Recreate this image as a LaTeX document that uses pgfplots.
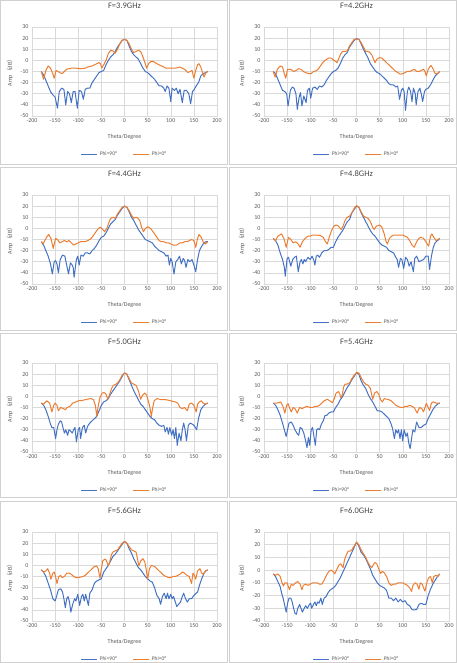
\documentclass[border=0pt]{standalone}
\usepackage{pgfplots}
\pgfplotsset{compat=1.18}
\usepackage{fontspec}
\setmainfont{Carlito}
\newfontfamily\cjk{Noto Sans CJK SC}
\definecolor{xlblue}{HTML}{4472C4}
\definecolor{xlorange}{HTML}{ED7D31}
\definecolor{xlgrid}{HTML}{D9D9D9}
\definecolor{xltext}{HTML}{595959}
\definecolor{xlframe}{HTML}{D0D0D0}
\pgfplotsset{
 panel/.style={
  scale only axis, width=185bp, height=89bp, anchor=north west,
  xmin=-200, xmax=200, xtick={-200,-150,...,200},
  ymin=-50, ymax=30, ytick={-50,-40,...,30},
  grid=major, major grid style={xlgrid, line width=0.5pt},
  axis line style={xlgrid, line width=0.5pt}, tick style={draw=none},
  tick label style={font=\fontsize{6}{7}\selectfont, text=xltext},
  xticklabel style={yshift=1bp},
  /pgf/number format/assume math mode=true,
  xlabel={Theta/Degree}, ylabel={Amp{\cjk （}dB{\cjk ）}},
  every axis x label/.style={at={(axis description cs:0.5,-0.236)}, anchor=center, font=\fontsize{6}{7}\selectfont, text=xltext},
  every axis y label/.style={at={(axis description cs:-0.12,0.5)}, rotate=90, anchor=center, font=\fontsize{6}{7}\selectfont, text=xltext},
  title style={at={(axis description cs:0.5,1.17)}, anchor=center, font=\fontsize{8.5}{9}\selectfont, text=xltext!80!black},
  legend style={at={(axis description cs:0.5,-0.43)}, anchor=center, draw=none, fill=none,
    legend columns=2, font=\fontsize{5.5}{6}\selectfont, text=xltext,
    /tikz/every even column/.append style={column sep=14bp}},
  legend image code/.code={\draw[#1] (0bp,0bp) -- (16bp,0bp);},
  every axis plot/.append style={line width=1pt, line join=round},
  clip=false,
 },
 b/.style={xlblue}, o/.style={xlorange},
}
\newcommand\lgd{\legend{Phi=90°,Phi=0°}}
\begin{document}
\begin{tikzpicture}
\useasboundingbox (0,0) rectangle (457bp,663bp);
\begin{scope}[xlframe, line width=0.6pt]
\draw (0.5bp,498.5bp) rectangle (227bp,662.5bp);
\draw (229.5bp,498.5bp) rectangle (456.5bp,662.5bp);
\draw (0.5bp,332.5bp) rectangle (227bp,496bp);
\draw (229.5bp,332.5bp) rectangle (456.5bp,496bp);
\draw (0.5bp,165.5bp) rectangle (227bp,329.5bp);
\draw (229.5bp,165.5bp) rectangle (456.5bp,329.5bp);
\draw (0.5bp,0.5bp) rectangle (227bp,162bp);
\draw (229.5bp,0.5bp) rectangle (456.5bp,162bp);
\end{scope}

% 3.9 GHz
\begin{axis}[panel, at={(32bp,636bp)}, title={F=3.9GHz}]
\addplot[b] coordinates {(-180,-10)(-175,-13)(-170,-18)(-165,-23)(-160,-28)(-155,-31)(-150,-33)(-145,-43)(-141,-28)(-136,-25)(-131,-26)(-127,-40)(-123,-28)(-119,-30)(-115,-38)(-111,-28)(-107,-28)(-102,-43)(-98,-27)(-93,-28)(-89,-35)(-85,-26)(-80,-25)(-75,-25)(-70,-20)(-65,-17)(-60,-14)(-55,-11)(-50,-10)(-45,-9)(-40,-4)(-35,0)(-30,3)(-25,5)(-20,8)(-15,12)(-10,15)(-5,18)(0,19)(5,18)(10,13)(15,8)(20,5)(25,3)(30,1)(35,-3)(40,-7)(45,-10)(50,-11)(55,-13)(60,-15)(65,-17)(70,-20)(75,-23)(80,-23)(85,-25)(88,-28)(92,-23)(96,-25)(100,-37)(103,-25)(108,-27)(112,-25)(116,-30)(120,-26)(125,-38)(129,-27)(134,-27)(139,-30)(143,-39)(147,-28)(151,-26)(155,-23)(160,-20)(165,-14)(170,-12)(175,-11)(180,-10)};
\addplot[o] coordinates {(-180,-10)(-175,-17)(-170,-9)(-165,-5)(-160,-7)(-155,-12)(-152,-16)(-148,-9)(-144,-10)(-140,-11)(-135,-12)(-130,-10)(-125,-8)(-115,-7)(-105,-7)(-95,-7.5)(-85,-7)(-80,-6)(-70,-5)(-60,-3)(-55,-2)(-52,-3)(-49,-7)(-45,-4)(-40,0)(-35,6)(-30,9)(-25,8.5)(-20,6.5)(-15,10)(-10,15)(-5,18)(0,19)(5,18)(10,15)(15,10)(20,7)(25,8)(30,9)(35,8)(40,3)(44,-2)(48,-7)(52,-3)(57,-1)(62,-1)(70,-3)(80,-5)(90,-7)(100,-7)(110,-7)(120,-6)(130,-8)(137,-11)(142,-10)(146,-9)(150,-16)(154,-9)(158,-4)(161,-3)(165,-6)(169,-11)(172,-15)(176,-11)(180,-10)};
\lgd
\end{axis}

% 4.2 GHz
\begin{axis}[panel, at={(264bp,636bp)}, title={F=4.2GHz}]
\addplot[b] coordinates {(-180,-10)(-175,-12)(-170,-17)(-165,-22)(-160,-27)(-155,-28)(-151,-30)(-148,-41)(-143,-27)(-139,-24)(-135,-25)(-131,-30)(-128,-44)(-124,-33)(-121,-29)(-118,-41)(-114,-32)(-109,-38)(-106,-27)(-102,-25)(-99,-34)(-95,-25)(-90,-24)(-85,-26)(-80,-23)(-75,-24)(-70,-22)(-65,-18)(-60,-15)(-55,-12)(-50,-10)(-45,-9)(-40,-7)(-35,-3)(-30,2)(-25,5)(-20,7)(-15,12)(-10,15)(-5,18)(0,19.5)(5,19)(10,15)(15,10)(20,6)(25,2)(30,-3)(35,-6)(40,-9)(45,-11)(50,-12)(55,-14)(60,-16)(65,-18)(70,-21)(75,-22)(80,-22)(85,-24)(89,-23)(93,-35)(97,-27)(100,-25)(103,-28)(106,-45)(110,-28)(113,-24)(117,-28)(120,-37)(123,-25)(127,-30)(129,-40)(133,-28)(137,-25)(140,-30)(143,-37)(147,-28)(150,-26)(155,-25)(160,-22)(165,-18)(170,-14)(175,-12)(180,-10)};
\addplot[o] coordinates {(-180,-10)(-176,-15)(-171,-8)(-165,-5)(-160,-6)(-156,-12)(-153,-16)(-149,-8)(-142,-8)(-136,-10)(-130,-9)(-125,-7.5)(-120,-8)(-115,-10)(-110,-11)(-103,-12)(-98,-12)(-93,-10)(-88,-9.5)(-83,-8)(-78,-5)(-73,-2)(-68,0)(-61,2)(-55,2)(-50,0.5)(-45,-1)(-42,-2)(-38,2)(-34,6)(-30,8)(-25,8)(-20,8.5)(-15,13)(-10,16)(-5,19)(0,19)(5,19)(10,16)(15,12)(20,8)(24,8)(28,7.5)(33,5)(37,1)(40,-2)(44,1)(50,2.5)(55,2)(60,0)(65,-2)(70,-4)(75,-6)(80,-8)(85,-10)(90,-11)(94,-12.4)(100,-12)(105,-11)(110,-10)(115,-10)(120,-9)(125,-8)(130,-10)(135,-10)(140,-9)(145,-8)(148,-10)(151,-14)(155,-8)(161,-4.5)(166,-8)(170,-12)(175,-12)(180,-10)};
\lgd
\end{axis}

% 4.4 GHz
\begin{axis}[panel, at={(32bp,468bp)}, title={F=4.4GHz}]
\addplot[b] coordinates {(-180,-12)(-175,-15)(-170,-20)(-165,-25)(-160,-32)(-156,-41)(-152,-30)(-149,-29)(-146,-32)(-143,-40)(-139,-28)(-134,-24)(-129,-25)(-125,-33)(-121,-41)(-117,-31)(-113,-33)(-111,-35)(-109,-44)(-104,-28)(-101,-25)(-98,-33)(-94,-24)(-89,-25)(-85,-22)(-80,-22)(-75,-23)(-70,-20)(-65,-18)(-60,-15)(-55,-11)(-50,-8)(-45,-7)(-40,-4)(-35,0)(-30,4)(-25,6)(-20,8)(-15,12)(-10,15)(-5,18)(0,20)(5,19)(10,15)(15,10)(20,7)(25,3)(30,-1)(35,-4)(40,-7)(45,-10)(50,-11)(55,-12)(60,-13)(65,-16)(70,-18)(75,-20)(80,-21)(85,-22)(90,-25)(94,-24)(97,-33)(100,-27)(103,-30)(107,-41)(111,-30)(115,-28)(119,-25)(123,-32)(127,-27)(130,-29)(133,-35)(137,-28)(141,-30)(146,-28)(150,-33)(154,-39)(158,-28)(162,-20)(167,-16)(172,-13)(176,-12)(180,-12)};
\addplot[o] coordinates {(-180,-12)(-176,-14)(-170,-9)(-164,-5.5)(-159,-9)(-154,-18)(-149,-9)(-145,-10)(-140,-13)(-135,-12)(-130,-11)(-125,-12)(-120,-11)(-115,-13)(-110,-15)(-105,-14)(-100,-13)(-95,-12)(-85,-12)(-80,-11)(-75,-10)(-70,-8)(-65,-5)(-60,-2)(-56,0)(-52,1)(-47,-1)(-43,-3)(-38,0)(-34,5)(-30,9)(-24,10)(-20,9)(-15,13)(-10,16)(-5,19)(0,20)(5,19)(10,16)(15,12)(20,9)(24,10)(28,9.6)(33,7)(37,1)(41,-3)(45,0)(51,1.5)(56,0)(60,-2)(65,-5)(70,-8)(75,-11)(80,-12)(85,-12)(90,-13)(95,-13)(100,-14)(105,-15)(113,-15)(120,-13)(125,-13)(130,-12)(135,-12)(140,-11)(145,-10)(150,-11)(154,-17)(158,-9)(161,-5.5)(166,-8)(171,-13)(175,-14)(180,-12)};
\lgd
\end{axis}

% 4.8 GHz
\begin{axis}[panel, at={(264bp,468bp)}, title={F=4.8GHz}]
\addplot[b] coordinates {(-180,-9)(-175,-11)(-170,-15)(-165,-22)(-160,-28)(-156,-35)(-154,-43)(-150,-27)(-147,-26)(-142,-34)(-138,-28)(-134,-26)(-130,-25)(-126,-39)(-122,-30)(-119,-28)(-116,-32)(-113,-28)(-110,-30)(-105,-26)(-100,-28)(-96,-25)(-92,-29)(-90,-33)(-87,-25)(-84,-24)(-80,-26)(-75,-22)(-70,-20)(-65,-20)(-60,-19)(-55,-17)(-50,-17)(-45,-12)(-40,-8)(-35,-5)(-30,-2)(-25,2)(-20,6)(-15,8)(-10,14)(-5,17)(0,20)(5,19)(10,14)(15,10)(20,6)(25,2)(30,-2)(35,-5)(40,-7)(45,-10)(50,-13)(55,-15)(60,-16)(65,-17)(70,-20)(75,-21)(80,-22)(85,-26)(88,-28)(91,-35)(95,-27)(98,-28)(102,-36)(106,-26)(110,-28)(114,-34)(118,-30)(123,-39)(126,-27)(130,-25)(135,-30)(140,-29)(145,-28)(150,-25)(155,-25)(158,-37)(162,-25)(166,-17)(170,-13)(175,-11)(180,-9)};
\addplot[o] coordinates {(-180,-9)(-175,-11)(-170,-7)(-162,-5)(-157,-9)(-152,-17)(-147,-8)(-142,-10)(-137,-13)(-132,-12)(-126,-14)(-122,-17)(-117,-12)(-111,-9)(-105,-7)(-100,-7)(-95,-6)(-85,-6)(-78,-6.5)(-72,-8)(-67,-12)(-63,-14)(-59,-8)(-54,-2)(-49,2)(-44,3)(-39,2)(-33,-1)(-29,2)(-25,7)(-20,10)(-15,11)(-10,14)(-5,18)(0,20.5)(5,19)(10,15)(15,11)(20,10)(25,9)(30,6)(35,1)(38,-1)(43,2)(50,3)(55,1)(60,-5)(64,-12)(67,-14)(71,-9)(76,-7)(80,-6)(90,-6)(100,-6)(105,-7)(110,-8)(115,-11)(120,-15)(125,-17)(130,-12)(135,-9)(139,-8)(145,-9)(150,-12)(156,-16)(160,-7)(163,-5)(167,-8)(172,-11)(176,-10)(180,-9)};
\lgd
\end{axis}

% 5.0 GHz
\begin{axis}[panel, at={(32bp,300bp)}, title={F=5.0GHz}]
\addplot[b] coordinates {(-180,-6)(-175,-8)(-170,-12)(-165,-18)(-160,-25)(-157,-28)(-153,-28)(-149,-38)(-146,-30)(-143,-25)(-139,-22)(-136,-23)(-133,-28)(-130,-33)(-127,-30)(-123,-35)(-120,-30)(-117,-31)(-113,-33)(-110,-30)(-107,-28)(-104,-41)(-100,-30)(-97,-28)(-95,-38)(-91,-28)(-87,-26)(-84,-33)(-80,-27)(-75,-24)(-70,-22)(-65,-20)(-60,-18)(-55,-13)(-50,-8)(-45,-5)(-40,-4)(-35,-2)(-30,2)(-25,5)(-20,8)(-15,11)(-10,14)(-5,18)(0,21)(5,20)(10,15)(15,10)(20,5)(25,1)(30,-3)(35,-7)(40,-9)(45,-12)(50,-15)(55,-18)(60,-20)(65,-21)(70,-24)(75,-26)(80,-27)(85,-26)(88,-32)(92,-28)(95,-34)(98,-28)(102,-35)(105,-30)(108,-38)(111,-28)(114,-44)(118,-33)(122,-40)(125,-30)(128,-24)(131,-30)(134,-40)(138,-26)(142,-24)(147,-25)(152,-27)(156,-30)(160,-20)(165,-12)(170,-9)(175,-7)(180,-6)};
\addplot[o] coordinates {(-180,-6)(-175,-7)(-168,-4)(-162,-6)(-157,-14)(-153,-8)(-150,-6)(-146,-8)(-143,-13)(-138,-10)(-132,-11)(-128,-12)(-124,-10)(-118,-9)(-112,-6)(-105,-5)(-100,-4)(-90,-3.5)(-80,-2.5)(-72,-2)(-67,-3)(-63,-8)(-60,-17.7)(-57,-9)(-53,-1)(-48,3)(-44,3.5)(-40,2)(-36,-2.6)(-32,2)(-28,7)(-24,10)(-20,10.5)(-15,12)(-10,15)(-5,19)(0,21)(5,20)(10,16)(15,12)(20,11)(25,10)(30,5)(35,-2.6)(39,1)(44,3)(48,1)(52,-5)(55,-10)(58,-18)(61,-10)(64,-4)(70,-2)(80,-3)(90,-3)(100,-4)(110,-5)(115,-6)(120,-10)(125,-11)(130,-10)(136,-13)(140,-7)(145,-6)(150,-8)(155,-14)(158,-7)(162,-5)(166,-4)(170,-6)(175,-7)(180,-6)};
\lgd
\end{axis}

% 5.4 GHz
\begin{axis}[panel, at={(264bp,300bp)}, title={F=5.4GHz}]
\addplot[b] coordinates {(-180,-6)(-175,-8)(-170,-12)(-165,-17)(-160,-24)(-156,-30)(-152,-36)(-149,-30)(-146,-24)(-141,-23)(-137,-26)(-133,-30)(-129,-33)(-125,-35)(-122,-28)(-118,-29)(-114,-33)(-111,-38)(-107,-46)(-104,-37)(-101,-44)(-98,-30)(-95,-28)(-92,-36)(-89,-44)(-86,-30)(-83,-29)(-80,-30)(-76,-25)(-72,-22)(-68,-17)(-64,-17)(-60,-15)(-55,-14)(-50,-14)(-45,-10)(-40,-7)(-35,-3)(-30,0)(-25,4)(-20,8)(-15,11)(-10,15)(-5,18)(0,21.5)(5,20)(10,14)(15,10)(20,7)(25,2)(30,-2)(35,-5)(40,-9)(45,-13)(50,-13)(55,-14)(60,-16)(65,-18)(70,-20)(75,-25)(78,-29)(82,-38)(85,-30)(88,-33)(91,-30)(94,-38)(97,-30)(100,-40)(103,-30)(107,-36)(110,-33)(113,-42)(116,-47)(119,-38)(122,-30)(126,-32)(130,-23)(135,-28)(140,-28)(145,-26)(150,-25)(155,-20)(160,-16)(165,-12)(170,-9)(175,-7)(180,-6)};
\addplot[o] coordinates {(-180,-6)(-172,-6)(-164,-5)(-159,-9)(-155,-15)(-151,-8)(-148,-6.5)(-145,-10)(-141,-14)(-137,-10)(-133,-11)(-128,-15)(-123,-10)(-118,-11)(-113,-10)(-108,-9)(-100,-10)(-95,-10)(-90,-9)(-85,-9)(-80,-8)(-75,-6)(-70,-4)(-63,-2.6)(-58,-4)(-52,-5.7)(-48,-2)(-44,3)(-39,4.3)(-36,2)(-34,-1)(-31,1)(-28,8)(-25,11)(-20,11)(-15,12)(-10,16)(-5,19)(0,21.5)(5,21)(10,17)(15,13)(20,11)(25,10)(30,7)(35,-2.6)(39,3)(44,4.3)(48,2)(52,-3)(56,-5)(60,-2)(70,-3)(75,-4)(80,-6)(85,-8)(90,-9)(95,-10)(100,-10)(105,-9)(110,-9)(115,-8)(120,-9)(125,-10)(131,-15)(136,-10)(141,-11)(145,-14)(148,-10)(151,-6.2)(155,-10)(158,-12.7)(162,-6)(166,-5)(172,-6)(180,-6)};
\lgd
\end{axis}

% 5.6 GHz
\begin{axis}[panel, at={(32bp,131bp)}, title={F=5.6GHz}]
\addplot[b] coordinates {(-180,-4)(-175,-6)(-170,-10)(-165,-16)(-160,-22)(-155,-30)(-150,-32)(-147,-28)(-143,-22)(-138,-21)(-134,-24)(-131,-30)(-128,-38)(-125,-30)(-122,-28)(-119,-33)(-116,-42)(-112,-35)(-108,-30)(-105,-32)(-101,-26)(-97,-36)(-93,-28)(-90,-26)(-87,-32)(-84,-26)(-81,-31)(-78,-36)(-75,-25)(-70,-22)(-65,-16)(-60,-14)(-55,-13)(-50,-12)(-45,-6)(-40,-3)(-35,0)(-30,4)(-25,8)(-20,10)(-15,13)(-10,16)(-5,19)(0,21.5)(5,20)(10,15)(15,11)(20,6)(25,2)(30,-2)(35,-4)(40,-7)(45,-10)(50,-12)(55,-14)(60,-15)(65,-20)(70,-27)(75,-30)(78,-35)(82,-28)(86,-25)(90,-30)(93,-25)(96,-30)(100,-26)(103,-30)(106,-28)(110,-33)(113,-37)(117,-35)(121,-33)(125,-28)(128,-25)(132,-30)(136,-33)(140,-30)(145,-30)(150,-27)(155,-25)(158,-24)(162,-18)(167,-12)(172,-7)(176,-5)(180,-4)};
\addplot[o] coordinates {(-180,-4)(-175,-6)(-170,-5)(-166,-3)(-162,-7)(-159,-12.4)(-155,-7)(-152,-6)(-149,-10)(-146,-16.3)(-142,-10)(-138,-9)(-135,-11)(-130,-10)(-125,-7)(-120,-7)(-115,-8)(-110,-10)(-105,-11)(-100,-11)(-95,-10.5)(-90,-10)(-85,-9)(-80,-7)(-75,-5)(-70,-3)(-65,-1)(-60,-0.5)(-57,-3)(-53,-11.5)(-50,-3)(-47,4)(-43,5.6)(-40,5)(-35,-0.4)(-32,3)(-28,10)(-25,12)(-20,13)(-15,14)(-10,17)(-5,20)(0,21.5)(5,20)(10,17)(15,14)(20,13)(25,12)(28,6)(31,-0.4)(35,4)(40,6)(44,3)(47,-4)(50,-12.4)(54,-3)(58,0)(65,-1)(70,-3)(75,-5)(80,-7)(85,-9)(90,-10)(95,-11)(100,-11)(105,-10)(110,-10)(115,-9)(120,-8)(125,-6)(130,-7)(135,-9)(140,-10)(145,-16.4)(148,-7)(151,-9)(154,-12.4)(158,-5)(163,-3)(167,-7)(170,-8)(175,-5)(180,-4)};
\lgd
\end{axis}

% 6.0 GHz
\begin{axis}[panel, at={(264bp,131bp)}, title={F=6.0GHz}, ymin=-40, ytick={-40,-30,...,30}]
\addplot[b] coordinates {(-180,-3)(-175,-5)(-170,-9)(-165,-13)(-162,-18)(-158,-23)(-155,-28)(-152,-33)(-149,-26)(-146,-22)(-142,-22)(-139,-25)(-136,-30)(-133,-34)(-130,-34.7)(-127,-30)(-123,-27)(-120,-30)(-117,-33)(-113,-30)(-110,-28)(-106,-30)(-102,-27)(-99,-26)(-97,-30)(-93,-27)(-90,-25)(-87,-28)(-84,-25)(-81,-26)(-77,-22)(-74,-27)(-70,-22)(-66,-21)(-62,-18)(-58,-16)(-55,-15)(-50,-14)(-45,-12)(-40,-9)(-35,-6)(-30,-2)(-25,2)(-20,6)(-15,10)(-10,14)(-5,18)(0,22)(5,19)(10,14)(15,12)(20,9)(25,5)(30,1)(35,-4)(40,-7)(45,-10)(50,-12)(55,-13)(60,-14)(65,-16)(70,-22)(75,-22)(80,-24)(85,-22)(90,-25)(95,-23)(100,-25)(105,-24)(110,-27)(115,-28)(120,-31)(124,-31.3)(130,-31)(135,-27)(140,-26)(145,-27)(150,-27)(155,-20)(160,-15)(165,-11)(170,-8)(175,-5)(180,-3)};
\addplot[o] coordinates {(-180,-3)(-175,-4)(-170,-3)(-165,-5)(-161,-10)(-158,-12.5)(-155,-10)(-150,-10)(-145,-15.4)(-141,-11)(-137,-12)(-132,-10)(-127,-9)(-122,-11)(-118,-15.4)(-115,-12)(-110,-11)(-105,-12)(-100,-11)(-95,-10)(-85,-10)(-80,-11)(-75,-11)(-70,-8)(-65,-4)(-60,-1)(-55,0)(-51,-1)(-47,-2.9)(-42,1)(-38,4)(-34,5)(-29,2)(-26,8)(-22,12)(-18,15)(-14,15)(-10,16)(-5,19)(0,22)(5,20)(10,16)(15,13)(20,10)(25,6)(30,3)(33,2)(36,4)(40,6)(44,5)(48,1)(52,-2.6)(56,-1)(60,-2)(65,-5)(70,-10)(75,-12)(80,-11)(85,-11)(90,-10)(100,-10)(105,-11)(110,-12)(115,-14)(119,-16.7)(122,-12)(127,-10)(131,-11)(135,-15)(138,-10)(142,-11)(145,-14)(148,-16.5)(152,-10)(156,-6)(160,-5)(164,-10)(167,-5)(172,-4)(176,-5)(180,-3)};
\lgd
\end{axis}
\end{tikzpicture}
\end{document}
